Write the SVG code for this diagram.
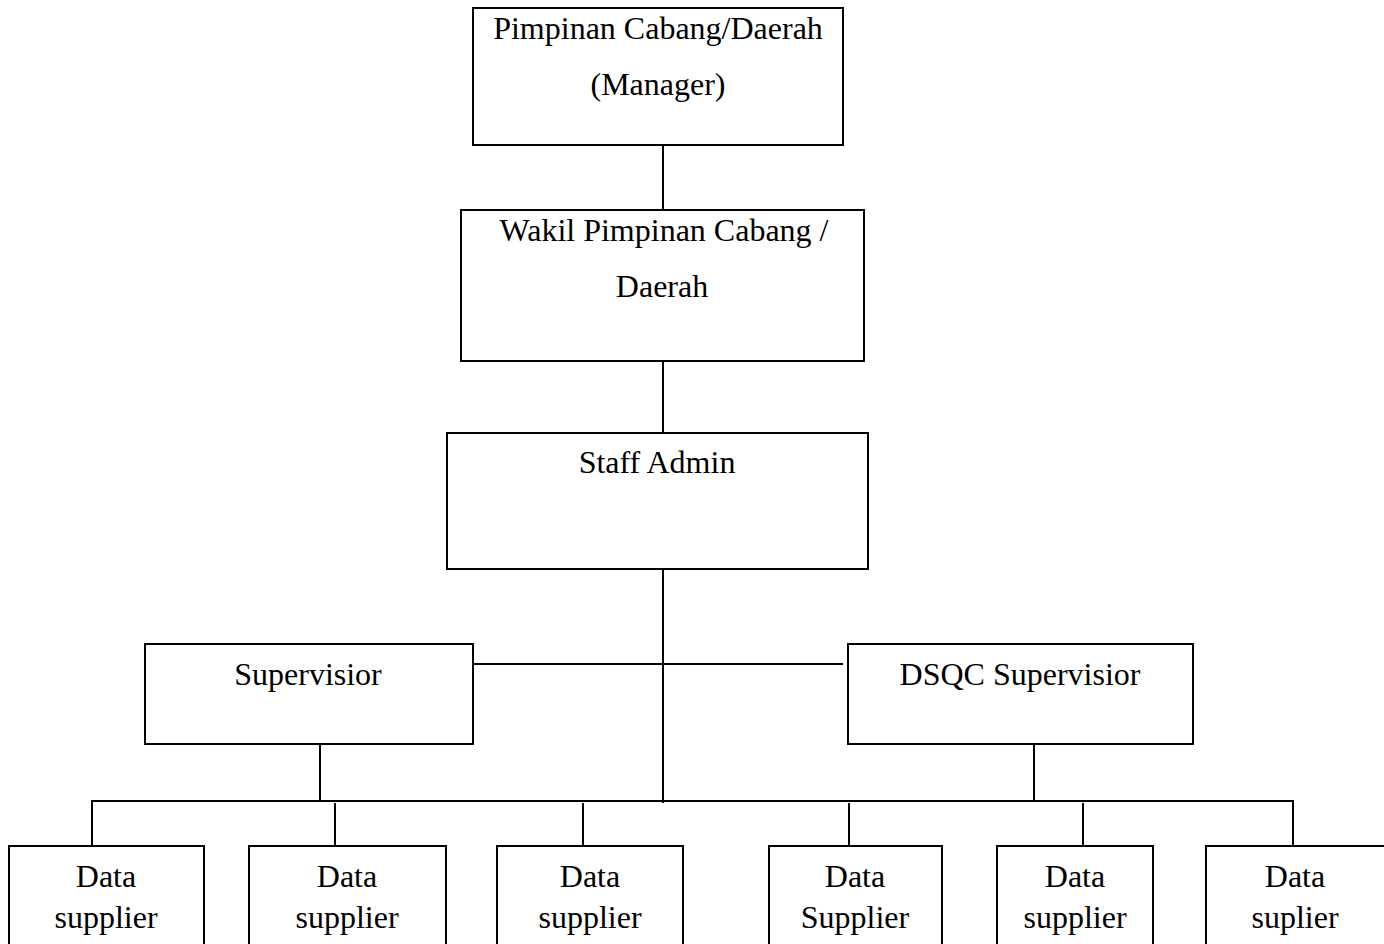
<svg xmlns="http://www.w3.org/2000/svg" width="1384" height="944" viewBox="0 0 1384 944">
<style>
.box{fill:#fff;stroke:#000;stroke-width:2}
.ln{stroke:#000;stroke-width:2;fill:none}
text{font-family:"Liberation Serif","Times New Roman",serif;font-size:32px;fill:#000;text-anchor:middle}
</style>
<rect width="1384" height="944" fill="#fff"/>
<g id="connectors">
<line class="ln" x1="663" y1="145" x2="663" y2="210"/>
<line class="ln" x1="663" y1="361" x2="663" y2="433"/>
<line class="ln" x1="663" y1="569" x2="663" y2="803"/>
<line class="ln" x1="473" y1="664" x2="843" y2="664"/>
<line class="ln" x1="320" y1="744" x2="320" y2="801"/>
<line class="ln" x1="1034" y1="744" x2="1034" y2="801"/>
<line class="ln" x1="91" y1="801" x2="1294" y2="801"/>
<line class="ln" x1="92" y1="800" x2="92" y2="846"/>
<line class="ln" x1="335" y1="803" x2="335" y2="846"/>
<line class="ln" x1="583" y1="803" x2="583" y2="846"/>
<line class="ln" x1="849" y1="803" x2="849" y2="846"/>
<line class="ln" x1="1083" y1="803" x2="1083" y2="846"/>
<line class="ln" x1="1293" y1="800" x2="1293" y2="846"/>
</g>
<g id="manager">
<rect class="box" x="473" y="8" width="370" height="137"/>
<text x="658" y="39">Pimpinan Cabang/Daerah</text>
<text x="658" y="95">(Manager)</text>
</g>
<g id="wakil">
<rect class="box" x="461" y="210" width="403" height="151"/>
<text x="664" y="241">Wakil Pimpinan Cabang /</text>
<text x="662" y="297">Daerah</text>
</g>
<g id="staff-admin">
<rect class="box" x="447" y="433" width="421" height="136"/>
<text x="657" y="473">Staff Admin</text>
</g>
<g id="supervisior">
<rect class="box" x="145" y="644" width="328" height="100"/>
<text x="308" y="685">Supervisior</text>
</g>
<g id="dsqc-supervisior">
<rect class="box" x="848" y="644" width="345" height="100"/>
<text x="1020" y="685">DSQC Supervisior</text>
</g>
<g id="ds1">
<rect class="box" x="9" y="846" width="195" height="110"/>
<text x="106" y="887">Data</text>
<text x="106" y="928">supplier</text>
</g>
<g id="ds2">
<rect class="box" x="249" y="846" width="197" height="110"/>
<text x="347" y="887">Data</text>
<text x="347" y="928">supplier</text>
</g>
<g id="ds3">
<rect class="box" x="497" y="846" width="186" height="110"/>
<text x="590" y="887">Data</text>
<text x="590" y="928">supplier</text>
</g>
<g id="ds4">
<rect class="box" x="769" y="846" width="173" height="110"/>
<text x="855" y="887">Data</text>
<text x="855" y="928">Supplier</text>
</g>
<g id="ds5">
<rect class="box" x="997" y="846" width="156" height="110"/>
<text x="1075" y="887">Data</text>
<text x="1075" y="928">supplier</text>
</g>
<g id="ds6">
<rect class="box" x="1206" y="846" width="190" height="110"/>
<text x="1295" y="887">Data</text>
<text x="1295" y="928">suplier</text>
</g>
</svg>
